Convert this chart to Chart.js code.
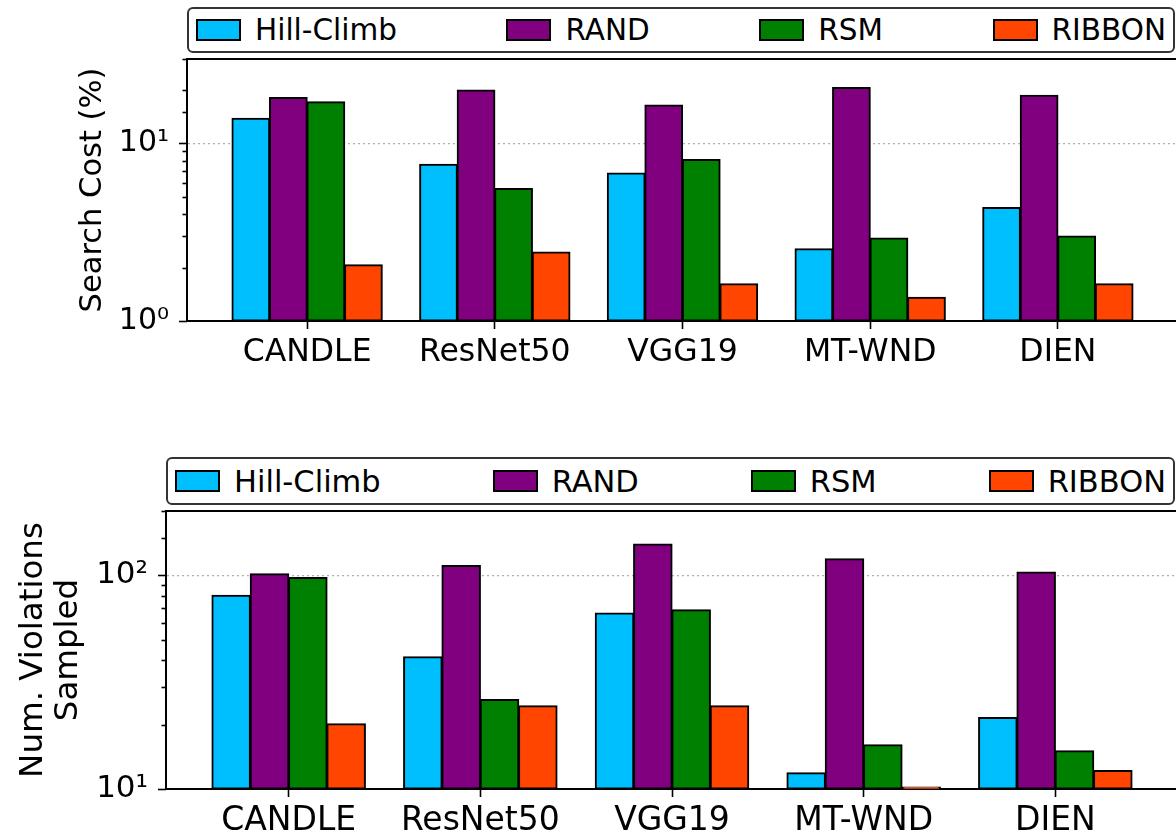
<!DOCTYPE html>
<html>
<head>
<meta charset="utf-8">
<script src="https://cdn.jsdelivr.net/npm/chart.js@4"></script>
<style>
  body { margin:0; width:1176px; height:835px; overflow:hidden; background:#fff; font-family:'DejaVu Sans', sans-serif; }
  .panel { position:absolute; left:0; width:1180px; height:385px; }
  .legend { position:absolute; box-sizing:border-box; border:2px solid #333; border-radius:6px; background:#fff;
            display:flex; justify-content:space-between; align-items:center; padding:0 7px; color:#000; }
  .legend .item { display:flex; align-items:center; white-space:nowrap; }
  .legend .sw { display:inline-block; box-sizing:border-box; width:45px; height:22px; border:2px solid #000; margin-right:14px; }
</style>
</head>
<body>
<div class="panel" id="p1" style="top:0"><canvas id="c1"></canvas></div>
<div class="panel" id="p2" style="top:450px"><canvas id="c2"></canvas></div>
<div class="legend" id="leg1" style="left:187px; top:7px; width:988px; height:46px; font-size:29.5px"></div>
<div class="legend" id="leg2" style="left:166px; top:457px; width:1009px; height:48px; font-size:30.5px"></div>
<script>
// categories and series
const categories = ['CANDLE', 'ResNet50', 'VGG19', 'MT-WND', 'DIEN'];
const seriesNames = ['Hill-Climb', 'RAND', 'RSM', 'RIBBON'];
const seriesColors = ['#00bfff', '#800080', '#008000', '#ff4500'];

// Search Cost (%)
const costHill   = [13.8, 7.6, 6.8, 2.55, 4.35];
const costRand   = [18.1, 19.9, 16.4, 20.6, 18.6];
const costRsm    = [17.1, 5.55, 8.1, 2.93, 3.0];
const costRibbon = [2.07, 2.44, 1.62, 1.36, 1.62];

// Num. Violations Sampled
const violHill   = [80.5, 41.5, 66.5, 11.9, 21.6];
const violRand   = [101.5, 111, 140, 119.5, 103.5];
const violRsm    = [97.5, 26.2, 68.9, 16.1, 15.1];
const violRibbon = [20.2, 24.5, 24.5, 10.2, 12.2];

// y tick labels (majors only)
const costTicks = [1, 10];
const costTickLabels = ['10⁰', '10¹'];
const violTicks = [10, 100];
const violTickLabels = ['10¹', '10²'];

const FONT = "'DejaVu Sans', sans-serif";

function isMajor(v){
  const l = Math.log10(v);
  return Math.abs(l - Math.round(l)) < 1e-9;
}

// minor/major y ticks + top spine, matplotlib style
const frame = {
  id: 'frame',
  afterDraw(chart){
    const { ctx, chartArea: a, scales: { y } } = chart;
    ctx.save();
    ctx.strokeStyle = '#000';
    ctx.lineWidth = 1.6;
    y.ticks.forEach(t => {
      const py = Math.round(y.getPixelForValue(t.value)) + 0.5;
      const len = isMajor(t.value) ? 8 : 4.5;
      ctx.beginPath();
      ctx.moveTo(a.left, py);
      ctx.lineTo(a.left - len, py);
      ctx.stroke();
    });
    ctx.lineWidth = 2;
    ctx.beginPath();
    ctx.moveTo(a.left - 1, a.top);
    ctx.lineTo(a.right + 2, a.top);
    ctx.stroke();
    ctx.restore();
  }
};

function makeLegend(id){
  const el = document.getElementById(id);
  seriesNames.forEach((n, i) => {
    const it = document.createElement('div');
    it.className = 'item';
    const sw = document.createElement('span');
    sw.className = 'sw';
    sw.style.background = seriesColors[i];
    const tx = document.createElement('span');
    tx.textContent = n;
    it.appendChild(sw); it.appendChild(tx);
    el.appendChild(it);
  });
}

function makeChart(canvasId, seriesVals, yMin, yMax, majors, majorLabels, yTitle, cfg){
  const datasets = seriesVals.map((vals, i) => ({
    label: seriesNames[i],
    data: vals.map((v, k) => ({ x: k, y: v })),
    backgroundColor: seriesColors[i],
    borderColor: '#000',
    borderWidth: 2,
    borderSkipped: false,
    inflateAmount: 0.6,
    categoryPercentage: 0.8,
    barPercentage: 1.0
  }));
  return new Chart(document.getElementById(canvasId), {
    type: 'bar',
    data: { datasets },
    options: {
      responsive: true,
      maintainAspectRatio: false,
      animation: false,
      layout: { padding: { top: cfg.top, right: 2, bottom: 0, left: 0 } },
      plugins: { legend: { display: false }, tooltip: { enabled: false } },
      scales: {
        x: {
          type: 'linear',
          offset: false,
          min: -0.64, max: 4.64,
          afterBuildTicks: s => { s.ticks = categories.map((c, i) => ({ value: i })); },
          afterFit: s => { s.height = cfg.xHeight; },
          grid: { display: true, offset: false, drawOnChartArea: false, drawTicks: true, tickLength: 8, tickColor: '#000', tickWidth: 1.6 },
          border: { display: true, color: '#000', width: 2 },
          ticks: {
            autoSkip: false, maxRotation: 0, padding: cfg.xPad, color: '#000',
            font: { family: FONT, size: cfg.xSize },
            callback: v => categories[v] ?? ''
          }
        },
        y: {
          type: 'logarithmic',
          min: yMin, max: yMax,
          afterFit: s => { s.width = cfg.yWidth; },
          grid: {
            drawTicks: false,
            lineWidth: 1.2,
            color: c => (c.tick && isMajor(c.tick.value) && c.tick.value > yMin) ? '#b0b0b0' : 'rgba(0,0,0,0)',
            borderDash: [2, 3]
          },
          border: { display: true, color: '#000', width: 2, dash: [2, 3] },
          ticks: {
            autoSkip: false, padding: 18, color: '#000',
            font: { family: FONT, size: cfg.ySize },
            callback: v => { const k = majors.indexOf(v); return k >= 0 ? majorLabels[k] : ''; }
          },
          title: {
            display: true, text: yTitle, color: '#000',
            font: { family: FONT, size: cfg.titleSize, lineHeight: 1.07 }, padding: { top: cfg.titlePad, bottom: 0 }
          }
        }
      }
    },
    plugins: [frame]
  });
}

makeLegend('leg1');
makeLegend('leg2');

makeChart('c1', [costHill, costRand, costRsm, costRibbon], 1, 29.8, costTicks, costTickLabels,
  'Search Cost (%)', { top: 59, xHeight: 64, xPad: 5, xSize: 31.5, ySize: 30, yWidth: 187, titlePad: 77, titleSize: 30.5 });

makeChart('c2', [violHill, violRand, violRsm, violRibbon], 10, 200, violTicks, violTickLabels,
  ['Num. Violations', 'Sampled'], { top: 61, xHeight: 46, xPad: 5, xSize: 33, ySize: 31, yWidth: 166, titlePad: 16, titleSize: 32.5 });
</script>
</body>
</html>
